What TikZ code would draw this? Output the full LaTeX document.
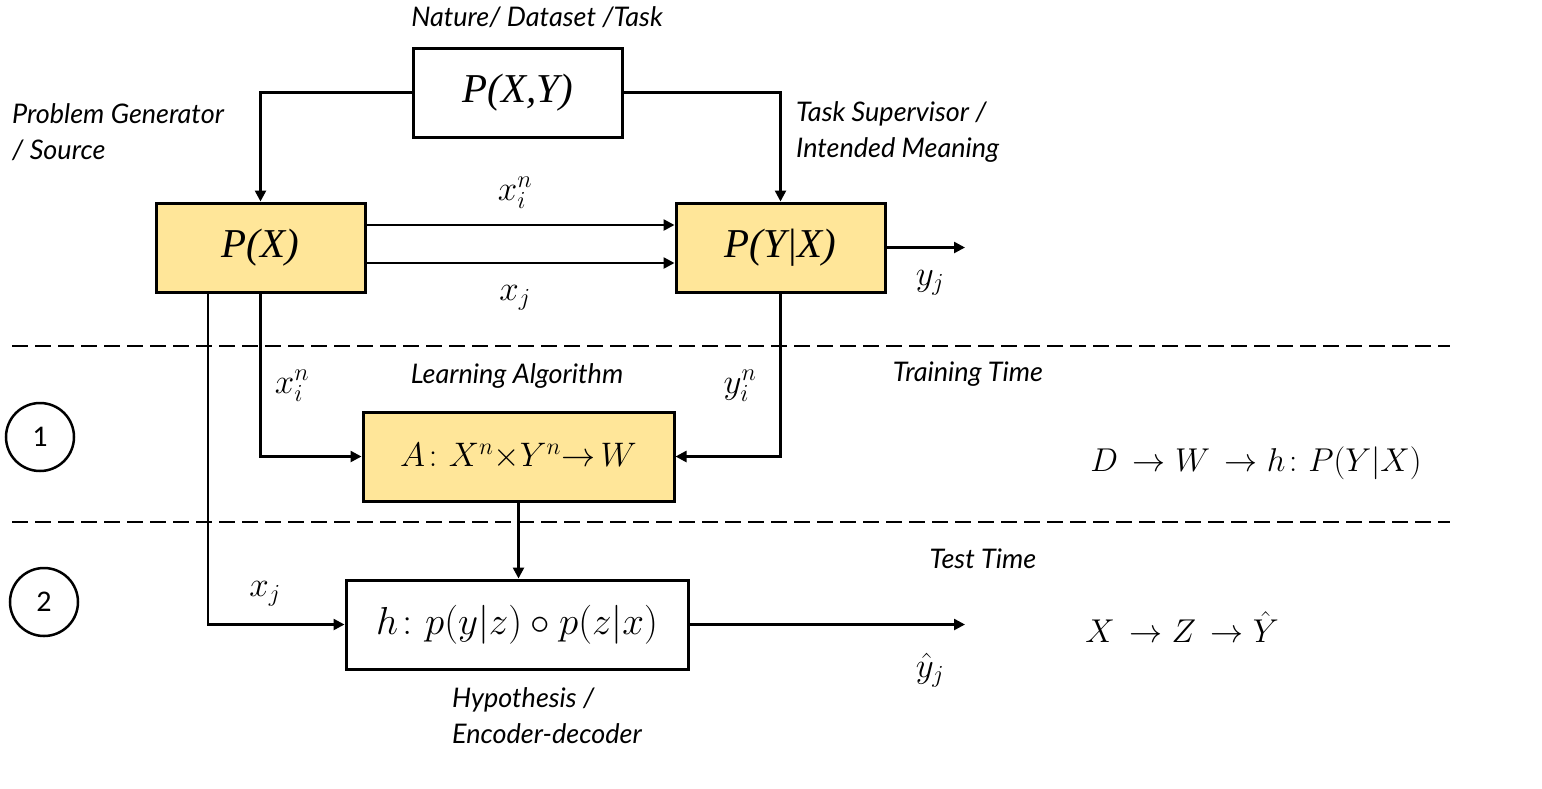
\RequirePackage{fix-cm}
\documentclass[tikz,border=0pt]{standalone}
\usepackage{amsmath}
\usepackage{fontspec}
\setmainfont{Liberation Serif}
\newfontfamily\hand{Lato}
\newfontfamily\digitfont{Carlito}
\usetikzlibrary{arrows.meta,calc}
\definecolor{boxyellow}{HTML}{FFE699}
\begin{document}
\begin{tikzpicture}[x=1pt,y=-1pt,
  box/.style={draw, line width=3pt, minimum width=209pt, minimum height=89pt, inner sep=0pt,
    font=\fontsize{41}{44}\selectfont\itshape},
  ybox/.style={box, fill=boxyellow},
  mbox/.style={draw, line width=3pt, minimum height=89pt, inner sep=0pt, font=\fontsize{34}{38}\selectfont},
  conn/.style={line width=2.5pt, -{Triangle[length=11pt,width=11pt]}},
  lbl/.style={font=\hand\itshape\fontsize{27}{36}\selectfont, inner sep=0pt},
  mlbl/.style={font=\fontsize{35}{38}\selectfont, inner sep=0pt},
  sep/.style={line width=1.8pt, dash pattern=on 16pt off 7pt},
  num/.style={circle, draw, line width=2.5pt, minimum size=68pt, inner sep=0pt, font=\digitfont\fontsize{30}{32}\selectfont}
]
\useasboundingbox (0,0) rectangle (1542,788);

% boxes
\node[box] (pxy) at (518,92.5) {P(X,Y)};
\node[ybox] (px) at (260.5,247.5) {P(X)};
\node[ybox] (pyx) at (780.5,247.5) {P(Y|X)};
\node[mbox, fill=boxyellow, minimum width=311pt] (A) at (518.5,456.5) {$A\colon X^n{\times}Y^n{\to}\,W$};
\node[mbox, minimum width=342pt, font=\fontsize{39}{42}\selectfont] (h) at (517,624.5) {$h\colon p(y|z)\circ p(z|x)$};

% free ends
\coordinate (yout) at (965,247.5);
\coordinate (hout) at (965,624.5);

% connectors
\draw[conn] (pxy.west) -| (px.north);
\draw[conn] (pxy.east) -| (pyx.north);
\draw[conn] (px.east |- 0,225) -- (pyx.west |- 0,225);
\draw[conn] (px.east |- 0,263) -- (pyx.west |- 0,263);
\draw[conn] (pyx.east) -- (yout);
\draw[conn] (px.south) |- (A.west);
\draw[conn] (pyx.south) |- (A.east);
\draw[conn] (A.south) -- (A.south |- h.north);
\draw[conn] (px.south -| 208,0) |- (h.west);
\draw[conn] (h.east) -- (hout);

% separators
\draw[sep] (12,346) -- (1450,346);
\draw[sep] (12,522) -- (1450,522);

% circles
\node[num] (c1) at (40,437) {1};
\node[num] (c2) at (44,602) {2};

% text labels
\node[lbl] (tnat) at (537,17) {Nature/ Dataset /Task};
\node[lbl, align=left, anchor=west] (tpg) at (12,132) {Problem Generator\\/ Source};
\node[lbl, align=left, anchor=west] (tts) at (796,132) {Task Supervisor /\\Intended Meaning};
\node[lbl] (tla) at (517,376) {Learning Algorithm};
\node[lbl] (ttr) at (968,374) {Training Time};
\node[lbl] (tte) at (983,559) {Test Time};
\node[lbl, align=left, anchor=west] (thy) at (452,716) {Hypothesis /\\Encoder-decoder};

% math labels
\node[mlbl] (mx1) at (515,193) {$x_i^n$};
\node[mlbl] (mx2) at (515,298) {$x_j$};
\node[mlbl] (myj) at (930,283) {$y_j$};
\node[mlbl] (mx3) at (292,386) {$x_i^n$};
\node[mlbl] (my3) at (740,386) {$y_i^n$};
\node[mlbl] (mx4) at (265,594) {$x_j$};
\node[mlbl] (myh) at (930,670) {$\hat{y}_j$};
\node[mlbl, font=\fontsize{33}{36}\selectfont] (mD) at (1256,463) {$D\,\to W\,\to h\colon P(Y|X)$};
\node[mlbl, font=\fontsize{33}{36}\selectfont] (mX) at (1182,627) {$X\,\to Z\,\to \hat{Y}$};
\end{tikzpicture}
\end{document}
